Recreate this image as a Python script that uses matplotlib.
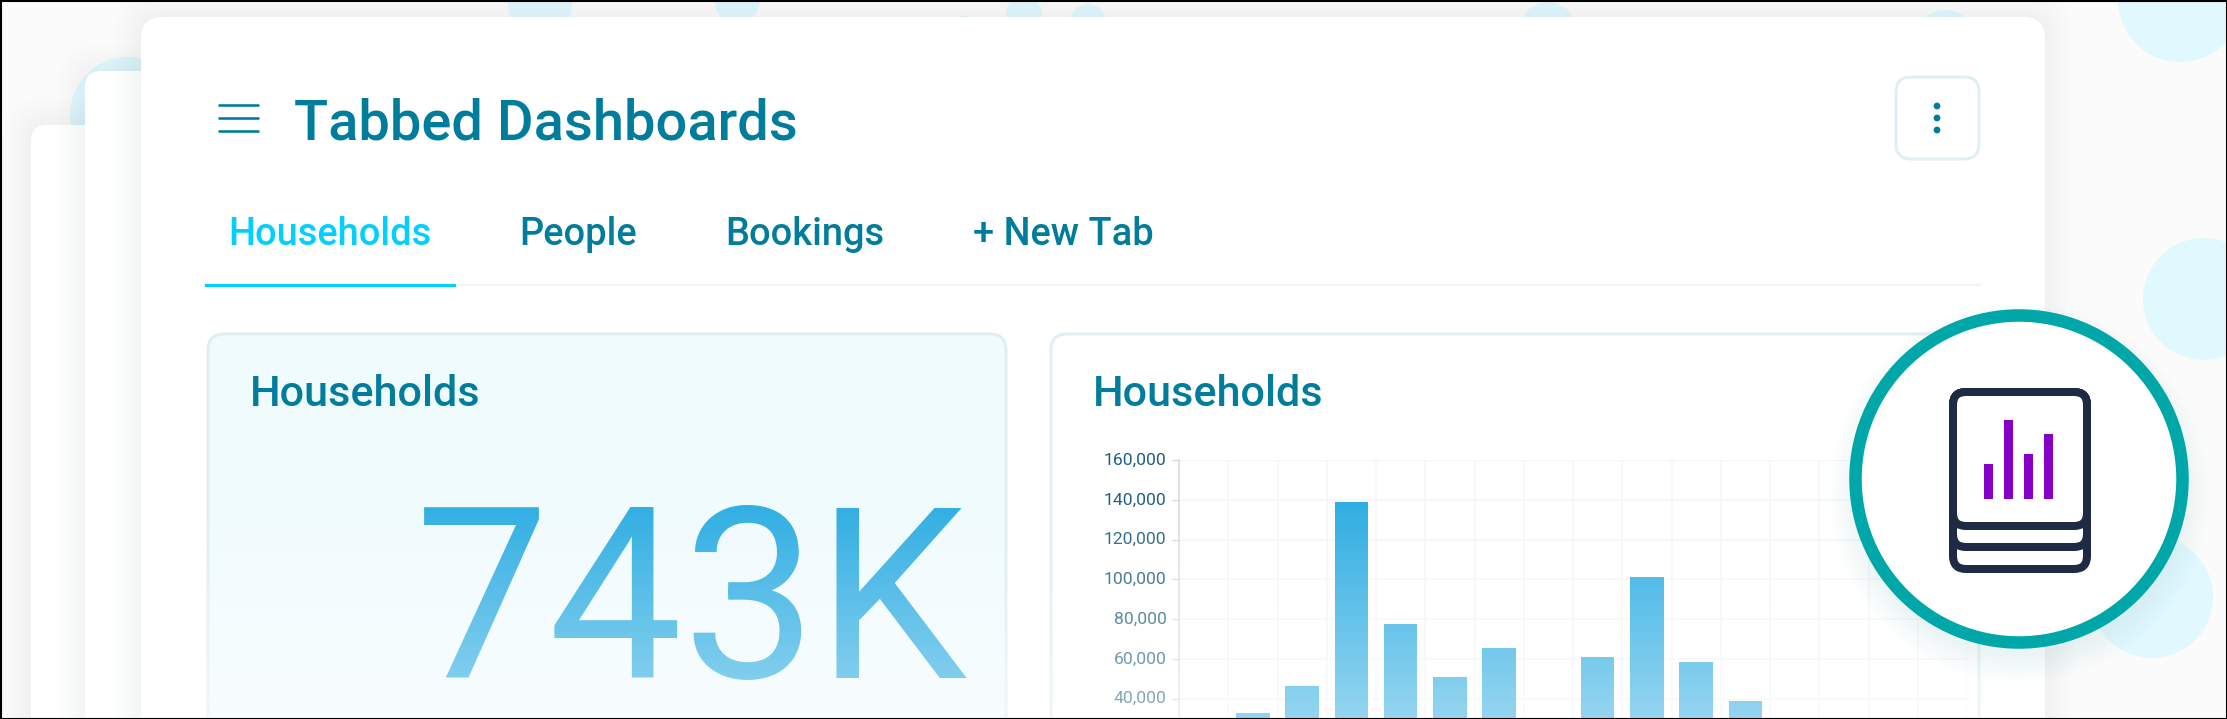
import numpy as np
import matplotlib
matplotlib.use("Agg")
import matplotlib.pyplot as plt
from matplotlib.patches import FancyBboxPatch, Circle, Rectangle
from matplotlib.transforms import ScaledTranslation

# =========================
# DATA
# =========================
tabs = ["Households", "People", "Bookings", "+ New Tab"]
tab_x = [228, 519, 725, 973]
big_number = "743K"
card_title = "Households"
page_title = "Tabbed Dashboards"

# 0 = bar is below the visible crop, value can't be read
households = [0, 32700, 46400, 139000, 77600, 50900, 65500, 0,
              60900, 101200, 58400, 38800, 0, 0, 0, 0]
y_ticks = [40000, 60000, 80000, 100000, 120000, 140000, 160000]
y_labels = ["40,000", "60,000", "80,000", "100,000",
            "120,000", "140,000", "160,000"]

icon_bar_tops = [464, 420, 454, 434]
icon_bar_left = [1984, 2004, 2024, 2044]

W, H = 2227, 719
TEAL = "#007C9C"
BLUE = "#2BACE2"
BLOB = "#E1F8FE"
LINE = "#DFEFF3"

plt.rcParams["font.family"] = ["Roboto", "DejaVu Sans"]
fig = plt.figure(figsize=(W / 100, H / 100), dpi=100)


def px_axes(z):
    a = fig.add_axes([0, 0, 1, 1], zorder=z)
    a.set_xlim(0, W)
    a.set_ylim(H, 0)
    a.axis("off")
    a.patch.set_alpha(0)
    return a


def box(a, x0, y0, x1, y1, r, fc, ec="none", lw=0, z=2):
    p = FancyBboxPatch((x0, y0), x1 - x0, y1 - y0,
                       boxstyle=f"round,pad=0,rounding_size={r}",
                       fc=fc, ec=ec, lw=lw * 0.72, zorder=z)
    a.add_patch(p)
    return p


def shadow(a, x0, y0, x1, y1, r, spread=28, z=2):
    for s in range(spread, 0, -3):
        p = FancyBboxPatch((x0 - s, y0 - s), x1 - x0 + 2 * s, y1 - y0 + 2 * s,
                           boxstyle=f"round,pad=0,rounding_size={r + s}",
                           fc="#7f8f99", ec="none", alpha=0.009, zorder=z)
        a.add_patch(p)


# =========================
# BACKGROUND + CARDS
# =========================
ax = px_axes(0)
ax.add_patch(Rectangle((0, 0), W, H, fc="#FBFBFB", ec="none", zorder=0))

for cx, cy, r in [(2180, 0, 62), (2204, 299, 61), (2152, 597, 61), (128, 115, 58),
                  (540, 5, 32), (737, 2, 22), (965, 30, 14), (1024, 14, 18),
                  (1088, 22, 18), (1548, 30, 28), (1945, 42, 32)]:
    ax.add_patch(Circle((cx, cy), r, fc=BLOB, ec="none", zorder=1))

shadow(ax, 31, 125, 300, H + 60, 16, z=2)
box(ax, 31, 125, 300, H + 60, 16, "white", z=3)
shadow(ax, 85, 71, 300, H + 60, 16, z=4)
box(ax, 85, 71, 300, H + 60, 16, "white", z=5)
shadow(ax, 141, 17, 2045, H + 60, 22, z=6)
box(ax, 141, 17, 2045, H + 60, 22, "white", z=7)

# header
for y in [105, 118, 131]:
    ax.plot([219, 258], [y, y], color=TEAL, lw=2.6 * 0.72, zorder=8, solid_capstyle="round")
ax.text(294, 139, page_title, color=TEAL, fontsize=40.3, fontweight=500, zorder=8)

box(ax, 1896, 77, 1979, 159, 15, "white", ec=LINE, lw=3, z=8)
for y in [106, 118, 130]:
    ax.add_patch(Circle((1937, y), 3.4, fc=TEAL, ec="none", zorder=9))

# tabs
for i, (name, x) in enumerate(zip(tabs, tab_x)):
    ax.text(x, 245, name, color="#00CFFF" if i == 0 else TEAL, fontsize=27.4,
            fontweight=500, zorder=8)
ax.plot([206, 1980], [285, 285], color="#F1F4F5", lw=2.5 * 0.72, zorder=8)
ax.plot([206, 454], [285, 285], color="#00CFFF", lw=3 * 0.72, zorder=9)

# left KPI card
box(ax, 208, 334, 1006, H + 60, 16, "#F0FBFE", ec=LINE, lw=3, z=8)
ax.text(250, 406, card_title, color=TEAL, fontsize=31.1, fontweight=500, zorder=9)
ax.text(968, 678, big_number, color=BLUE, fontsize=172, fontweight=400, ha="right", zorder=9)

# right chart card
box(ax, 1051, 334, 1979, H + 60, 16, "white", ec=LINE, lw=3, z=8)
ax.text(1093, 406, card_title, color=TEAL, fontsize=31.1, fontweight=500, zorder=9)

# =========================
# BAR CHART (runs off the bottom of the picture)
# =========================
ax_left, ax_right, ax_top, ax_zero = 1179, 1967, 460, 778
chart = fig.add_axes([ax_left / W, (H - ax_zero) / H, (ax_right - ax_left) / W,
                      (ax_zero - ax_top) / H], zorder=1)
chart.patch.set_alpha(0)
chart.bar(np.arange(len(households)) + 0.5, households, width=0.68, color=BLUE, zorder=3)
chart.set_xlim(0, len(households))
chart.set_ylim(0, 160000)
chart.set_xticks(np.arange(len(households) + 1))
chart.set_xticklabels([])
chart.set_yticks(y_ticks)
chart.set_yticklabels(y_labels, fontsize=12.6, color="#1F5F80")
chart.tick_params(axis="y", length=5, width=1, color="#D5DADD", pad=4)
chart.tick_params(axis="x", length=0)
chart.grid(True, color="#F6F6FB", lw=1.2, zorder=0)
for side in ["top", "right", "bottom"]:
    chart.spines[side].set_visible(False)
chart.spines["left"].set_color("#D5DADD")
chart.spines["left"].set_linewidth(1.1)
for lab in chart.get_yticklabels():
    lab.set_transform(lab.get_transform() + ScaledTranslation(0, 1 / 72, fig.dpi_scale_trans))

# =========================
# WHITE FADE OVER THE CARD + BADGE
# =========================
top = px_axes(2)
fade = np.ones((256, 2, 4))
fade[:, :, 3] = np.linspace(0, 0.5, 256)[:, None]
top.imshow(fade, extent=(141, 2045, 719, 490), aspect="auto", zorder=1)
top.set_xlim(0, W)
top.set_ylim(H, 0)

cx, cy = 2019, 479
for s in range(30, 0, -3):
    top.add_patch(Circle((cx, cy + 14), 160 + s, fc="#5f8f9f", ec="none", alpha=0.008, zorder=2))
top.add_patch(Circle((cx, cy), 163.5, fc="white", ec="#00A7A9", lw=12.5 * 0.72, zorder=3))

ICON = "#1F2A44"
for bottom in [569, 547, 526]:
    box(top, 1953, 392, 2087, bottom, 13, "white", ec=ICON, lw=8, z=4)
for x, t in zip(icon_bar_left, icon_bar_tops):
    top.add_patch(Rectangle((x, t), 9, 499 - t, fc="#8600C8", ec="none", zorder=5))

# picture frame
top.add_patch(Rectangle((0.5, 0.5), W - 1, H - 1, fc="none", ec="black", lw=1.5, zorder=10, clip_on=False))

fig.savefig("out.png", dpi=100)
